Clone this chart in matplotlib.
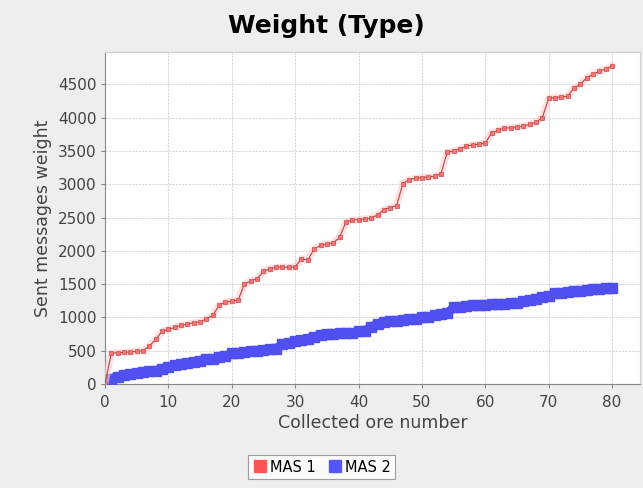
import matplotlib
matplotlib.use("Agg")
import matplotlib.pyplot as plt
from matplotlib.lines import Line2D

plt.rcParams['font.family'] = ['DejaVu Sans']

x_values = list(range(0, 81))
mas1 = [0, 465, 470, 475, 480, 490, 500, 570, 670, 790, 820, 850, 880, 900, 920, 930,
        980, 1030, 1180, 1230, 1240, 1260, 1500, 1550, 1580, 1690, 1730, 1750, 1760, 1750,
        1760, 1880, 1860, 2030, 2080, 2100, 2120, 2200, 2430, 2460, 2470, 2480, 2490, 2540,
        2620, 2650, 2680, 3010, 3070, 3090, 3100, 3110, 3120, 3160, 3480, 3500, 3530, 3570,
        3590, 3600, 3620, 3770, 3810, 3840, 3850, 3860, 3870, 3900, 3930, 4000, 4290, 4300,
        4310, 4320, 4450, 4500, 4600, 4650, 4700, 4730, 4780]
mas2 = [30, 80, 110, 130, 150, 160, 175, 190, 200, 230, 260, 280, 300, 320, 335, 350,
        370, 380, 400, 420, 460, 470, 480, 490, 500, 510, 520, 530, 600, 620, 640, 660,
        680, 700, 730, 750, 755, 760, 760, 770, 790, 800, 860, 900, 930, 940, 950, 960,
        970, 980, 1000, 1010, 1030, 1050, 1060, 1150, 1160, 1170, 1180, 1185, 1190, 1195,
        1200, 1205, 1210, 1220, 1240, 1260, 1280, 1300, 1320, 1360, 1370, 1380, 1390, 1400,
        1410, 1420, 1430, 1440, 1445]
series_names = ["MAS 1", "MAS 2"]
x_ticks = list(range(0, 81, 10))
y_ticks = list(range(0, 4501, 500))

fig = plt.figure(figsize=(6.43, 4.88), dpi=100, facecolor='#eeeeee')
ax = fig.add_axes([0.1633, 0.2131, 0.832, 0.681])
ax.set_facecolor('white')

# MAS 2 (blue band)
ax.plot(x_values, mas2, color='#4f4ff2', lw=6.5, solid_capstyle='butt', zorder=3)
ax.plot(x_values, mas2, ls='none', marker='s', ms=6.5, color='#4f4ff2', zorder=3)

# MAS 1 (red)
ax.plot(x_values, mas1, color='#ffc8c8', lw=5, alpha=0.6, zorder=3)
ax.plot(x_values, mas1, color='#b04848', lw=0.8, zorder=4)
ax.plot(x_values, mas1, ls='none', marker='s', ms=3.2, markerfacecolor='#ff7070',
        markeredgecolor='#c05050', markeredgewidth=0.5, zorder=5)

ax.set_xlim(0, 84.4)
ax.set_ylim(0, 4990)
ax.set_xticks(x_ticks)
ax.set_yticks(y_ticks)
ax.grid(True, color='#d8d8d8', lw=0.8, ls=(0, (2, 1)))
ax.set_axisbelow(True)
for side in ['top', 'right']:
    ax.spines[side].set_color('#d0d0d0')
for side in ['left', 'bottom']:
    ax.spines[side].set_color('#888888')
ax.tick_params(axis='both', colors='#888888', length=3, labelsize=11, labelcolor='#444444')
ax.tick_params(axis='x', pad=5)
ax.tick_params(axis='y', pad=3)

ax.set_xlabel("Collected ore number", fontsize=12.5, color='#444444', labelpad=3)
ax.set_ylabel("Sent messages weight", fontsize=12.5, color='#444444', labelpad=4)

fig.suptitle("Weight (Type)", x=0.507, y=0.972, fontsize=18, fontweight='bold', color='black')

handles = [Line2D([0], [0], ls='none', marker='s', ms=9, color='#ff5555'),
           Line2D([0], [0], ls='none', marker='s', ms=9, color='#5555ff')]
leg = fig.legend(handles, series_names, loc='center', bbox_to_anchor=(0.5, 0.043),
                 ncol=2, frameon=True, fancybox=False, fontsize=10.5, handletextpad=0.2,
                 columnspacing=0.8, borderpad=0.3, handlelength=1.0)
leg.get_frame().set_edgecolor('#888888')
leg.get_frame().set_facecolor('white')
leg.get_frame().set_linewidth(0.8)

fig.savefig("out.png", dpi=100, facecolor=fig.get_facecolor())
